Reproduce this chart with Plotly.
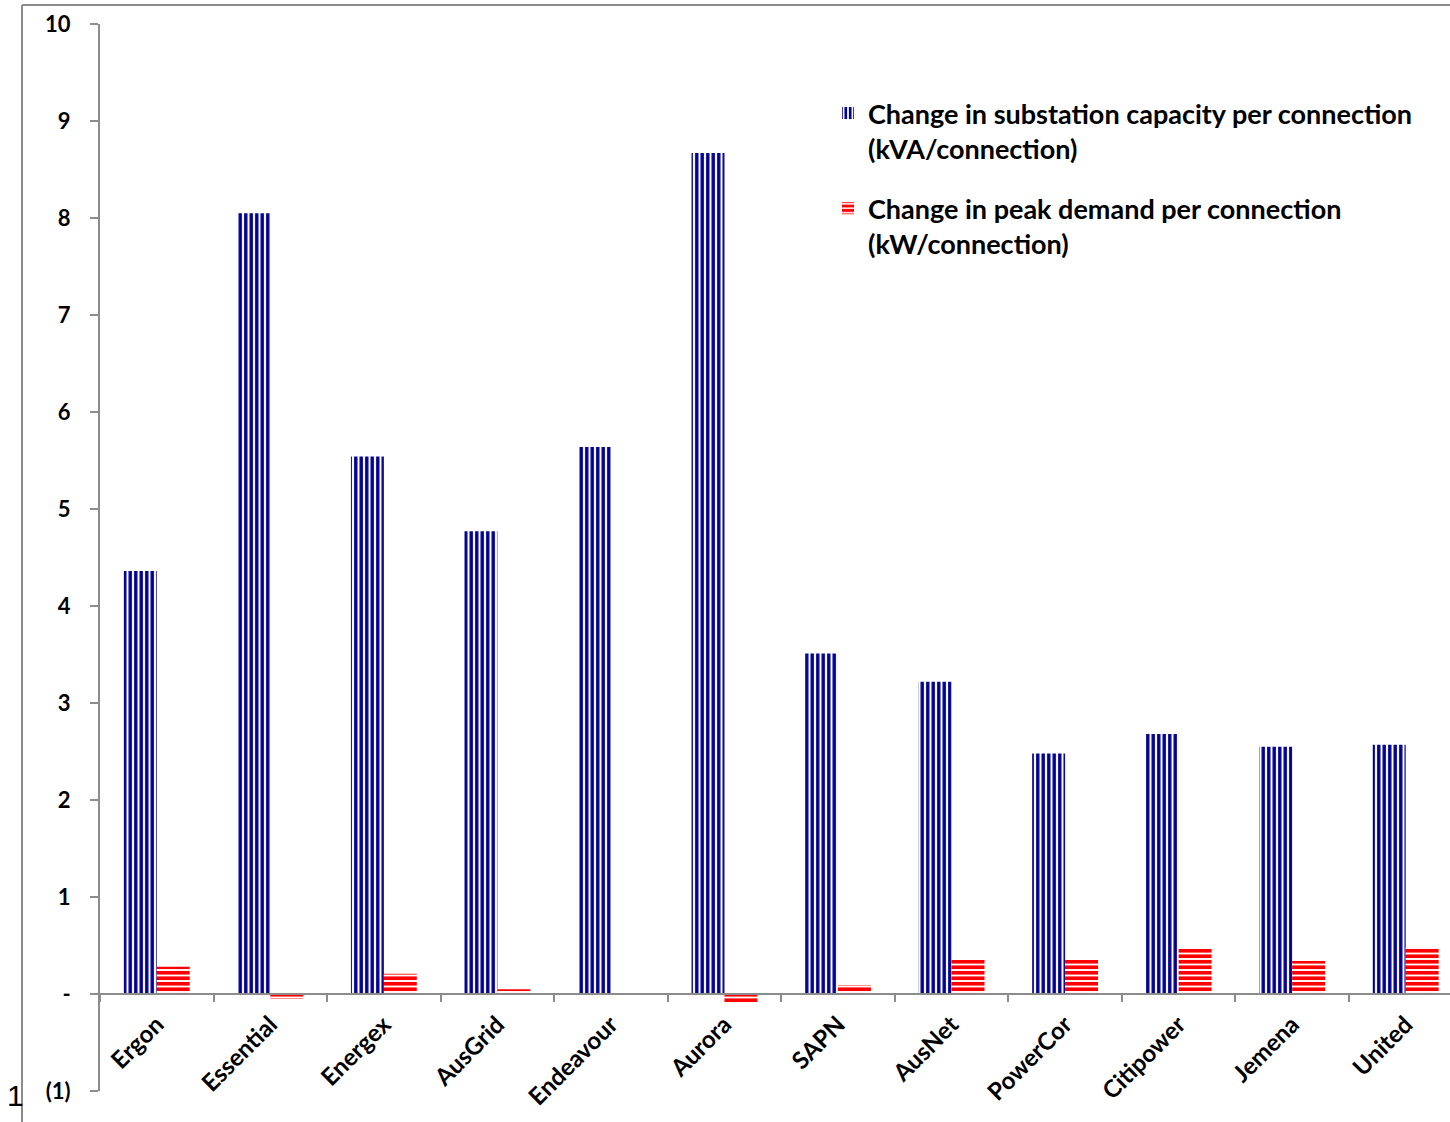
import plotly.graph_objects as go

categories = ["Ergon", "Essential", "Energex", "AusGrid", "Endeavour", "Aurora",
              "SAPN", "AusNet", "PowerCor", "Citipower", "Jemena", "United"]
substation_capacity = [4.36, 8.05, 5.54, 4.77, 5.64, 8.67, 3.51, 3.22, 2.48, 2.68, 2.55, 2.57]
peak_demand = [0.28, -0.05, 0.21, 0.05, 0.0, -0.09, 0.09, 0.35, 0.35, 0.47, 0.34, 0.48]
tick_vals = [-1, 0, 1, 2, 3, 4, 5, 6, 7, 8, 9, 10]
tick_text = ["(1)", "-", "1", "2", "3", "4", "5", "6", "7", "8", "9", "10"]

name1 = "Change in substation capacity per connection<br>(kVA/connection)"
name2 = "Change in peak demand per connection<br>(kW/connection)"

FONT = "Lato, 'Open Sans', sans-serif"

fig = go.Figure()
fig.add_trace(go.Bar(
    x=categories, y=substation_capacity, name=name1, legendgroup="a",
    marker=dict(color="#000099", line=dict(width=0),
                pattern=dict(shape="|", fgcolor="#000090", bgcolor="white",
                             size=5.5, solidity=0.62, fillmode="replace")),
))
fig.add_trace(go.Bar(
    x=categories, y=peak_demand, name=name2, legendgroup="b",
    marker=dict(color="#ff0000", line=dict(width=0),
                pattern=dict(shape="-", fgcolor="#ff0000", bgcolor="white",
                             size=5.5, solidity=0.66, fillmode="replace")),
))

W, H = 1450, 1122
L, R, T, B = 100, 0, 24, 31
pw, ph = W - L - R, H - T - B

def px_to_paper_x(px):
    return (px - L) / pw

def px_to_paper_y(py):
    return (H - B - py) / ph

fig.update_layout(
    width=W, height=H,
    margin=dict(l=L, r=R, t=T, b=B, pad=0),
    paper_bgcolor="white", plot_bgcolor="white",
    barmode="group", bargap=0.42, bargroupgap=0,
    font=dict(family=FONT, color="black"),
    showlegend=True,
    legend=dict(
        x=px_to_paper_x(828), y=px_to_paper_y(89), xanchor="left", yanchor="top",
        font=dict(family=FONT, size=27, color="black", weight="bold"),
        bgcolor="rgba(0,0,0,0)", tracegroupgap=22, traceorder="grouped",
        valign="top", itemsizing="constant",
    ),
    xaxis=dict(
        range=[-0.5, 11.39], anchor="free", position=1 / 11,
        showline=True, linecolor="#8c8c8c", linewidth=2,
        ticks="outside", tickson="boundaries", ticklen=7, tickcolor="#8c8c8c", tickwidth=2,
        tickangle=-45, showgrid=False, zeroline=False, ticklabelstandoff=6,
        tickfont=dict(family=FONT, size=24, color="black", weight="bold"),
    ),
    yaxis=dict(
        range=[-1, 10], tickmode="array", tickvals=tick_vals, ticktext=tick_text,
        showline=True, linecolor="#8c8c8c", linewidth=2,
        ticks="outside", ticklen=8, tickcolor="#8c8c8c", tickwidth=2,
        showgrid=False, zeroline=False, ticklabelstandoff=15,
        tickfont=dict(family=FONT, size=22, color="black", weight="bold"),
    ),
    shapes=[
        dict(type="line", xref="paper", yref="paper",
             x0=px_to_paper_x(22), x1=px_to_paper_x(1450),
             y0=px_to_paper_y(5), y1=px_to_paper_y(5),
             line=dict(color="#8c8c8c", width=2)),
        dict(type="line", xref="paper", yref="paper",
             x0=px_to_paper_x(22), x1=px_to_paper_x(22),
             y0=px_to_paper_y(5), y1=px_to_paper_y(1122),
             line=dict(color="#8c8c8c", width=2)),
    ],
    annotations=[
        dict(text="1", xref="paper", yref="paper",
             x=px_to_paper_x(15), y=px_to_paper_y(1095),
             xanchor="center", yanchor="middle", showarrow=False,
             font=dict(family="'Liberation Sans', Arial, sans-serif", size=30, color="black")),
    ],
)

fig.write_html("out.html")
